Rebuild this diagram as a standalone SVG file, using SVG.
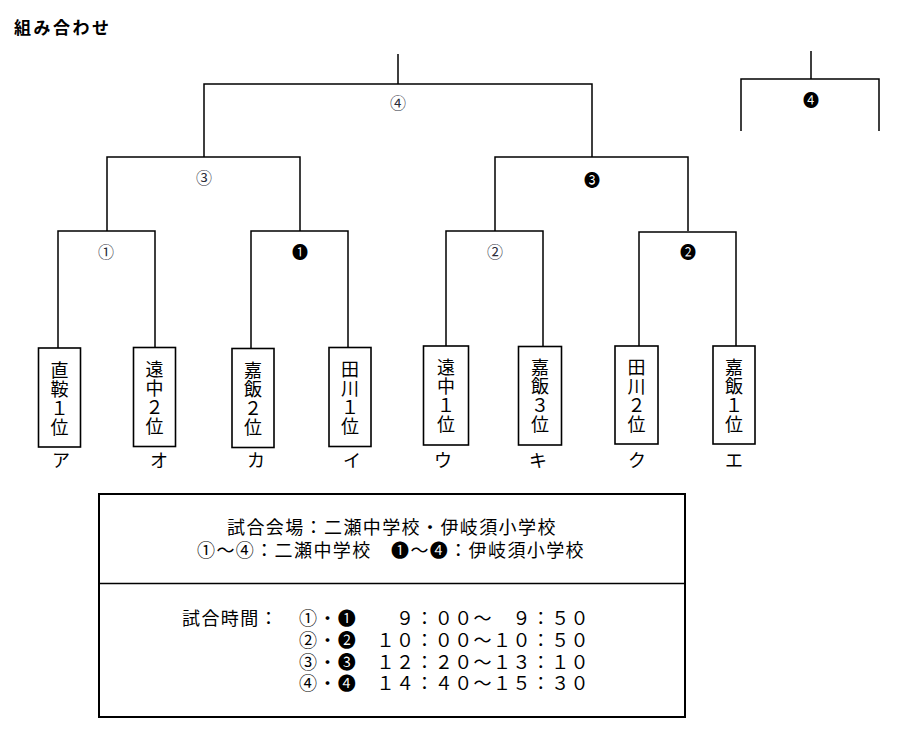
<svg xmlns="http://www.w3.org/2000/svg" width="900" height="740" viewBox="0 0 900 740">
<style>
text{font-family:"Noto Sans CJK JP","Noto Sans CJK SC",sans-serif;fill:#000}
.title{font-size:17px;font-weight:700;letter-spacing:2.5px}
.ln{fill:none;stroke:#000;stroke-width:1.5}
.box{fill:#fff;stroke:#000;stroke-width:1.6}
.tm{font-size:18px;writing-mode:vertical-rl;text-orientation:upright;letter-spacing:1px}
.lab{font-size:18px;text-anchor:middle}
.mn{font-size:16px;text-anchor:middle}
.mw{fill:#2a2d3a}
.tb{font-size:18px;letter-spacing:1.4px}
</style>
<text class="title" x="14" y="34">組み合わせ</text>
<g id="connectors">
<path class="ln" d="M398 54V84M204 157V84H592V157"/>
<path class="ln" d="M107 231V157H300V231M495 231V157H688V231"/>
<path class="ln" d="M58 348V231H155V347.5M251 348.5V231H348V347.5"/>
<path class="ln" d="M446 346V231H543V346.5M639 346V232H736V346"/>
<path class="ln" d="M811 51V79M741 131V79H879V131"/>
</g>
<g id="match-labels">
<text class="mn mw" x="398" y="109">④</text>
<text class="mn mw" x="204" y="184">③</text>
<text class="mn" x="592" y="186">❸</text>
<text class="mn mw" x="106" y="258">①</text>
<text class="mn" x="300" y="258">❶</text>
<text class="mn mw" x="495" y="258">②</text>
<text class="mn" x="688" y="258">❷</text>
<text class="mn" x="811" y="106">❹</text>
</g>
<g id="team-a">
<rect class="box" x="38.5" y="348" width="42" height="99"/>
<text class="tm" x="59.5" y="361">直鞍１位</text>
<text class="lab" x="61" y="467">ア</text>
</g>
<g id="team-o">
<rect class="box" x="133.5" y="347.5" width="42" height="99"/>
<text class="tm" x="154.5" y="360">遠中２位</text>
<text class="lab" x="159" y="467">オ</text>
</g>
<g id="team-ka">
<rect class="box" x="232" y="348.5" width="42" height="99"/>
<text class="tm" x="253" y="361">嘉飯２位</text>
<text class="lab" x="256" y="467">カ</text>
</g>
<g id="team-i">
<rect class="box" x="329" y="347.5" width="42" height="99"/>
<text class="tm" x="350" y="360">田川１位</text>
<text class="lab" x="352" y="467">イ</text>
</g>
<g id="team-u">
<rect class="box" x="423.5" y="346" width="45" height="99"/>
<text class="tm" x="446" y="358">遠中１位</text>
<text class="lab" x="443" y="467">ウ</text>
</g>
<g id="team-ki">
<rect class="box" x="518.5" y="346.5" width="43" height="98.5"/>
<text class="tm" x="540" y="358">嘉飯３位</text>
<text class="lab" x="538" y="467">キ</text>
</g>
<g id="team-ku">
<rect class="box" x="615" y="346" width="43" height="98"/>
<text class="tm" x="636.5" y="358">田川２位</text>
<text class="lab" x="637" y="467">ク</text>
</g>
<g id="team-e">
<rect class="box" x="713" y="346" width="42" height="98"/>
<text class="tm" x="734" y="358">嘉飯１位</text>
<text class="lab" x="734" y="467">エ</text>
</g>
<g id="info-table">
<rect x="99" y="494" width="586" height="223" fill="#fff" stroke="#000" stroke-width="2"/>
<line x1="99" y1="583.5" x2="685" y2="583.5" stroke="#000" stroke-width="1.5"/>
<text class="tb" x="227" y="533.5">試合会場：二瀬中学校・伊岐須小学校</text>
<text class="tb" x="197" y="557">①～④：二瀬中学校　❶～❹：伊岐須小学校</text>
<text class="tb" x="182" y="625">試合時間：</text>
<text class="tb" x="299" y="625">①・❶　　９：００～　９：５０</text>
<text class="tb" x="299" y="647">②・❷　１０：００～１０：５０</text>
<text class="tb" x="299" y="669">③・❸　１２：２０～１３：１０</text>
<text class="tb" x="299" y="690">④・❹　１４：４０～１５：３０</text>
</g>
</svg>
